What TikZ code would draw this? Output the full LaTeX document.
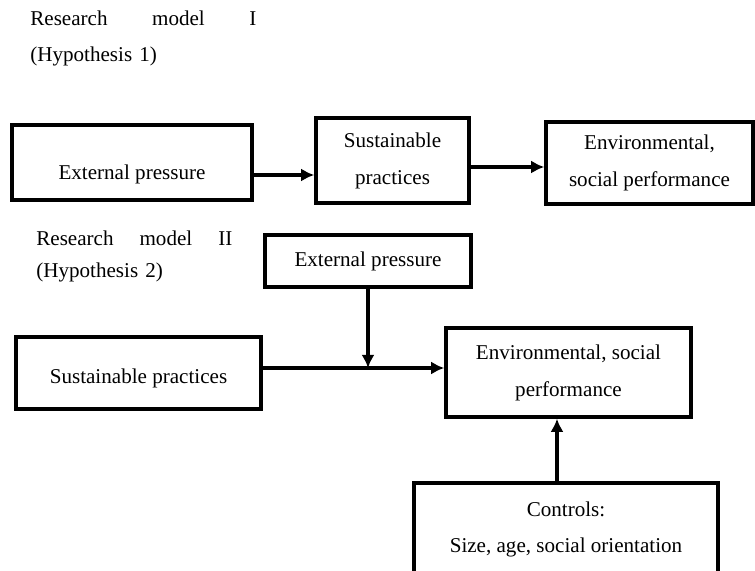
\documentclass[tikz,border=0pt]{standalone}
\usepackage{fontspec}
\setmainfont{Liberation Serif}
\usetikzlibrary{arrows.meta,calc}
\tikzset{
    block/.style = {draw, rectangle, line width=2pt, inner sep=0pt,
        align=center, font=\fontsize{12}{21}\selectfont},
    heading/.style = {align=left, inner sep=0pt, anchor=north west},
    arrow/.style = {draw, line width=1.8pt, ->}
}
\begin{document}
\begin{tikzpicture}[x=0.02cm, y=-0.02cm, >={Latex[length=7.5pt,width=7.5pt]}]
        \clip (0,0) rectangle (755,571);
        % research model I
        \node [heading, text width=4.52cm, font=\fontsize{12}{20}\selectfont] (title1) at (30,11)
            {Research\hfill model\hfill I\\(Hypothesis 1)};
        \node [block, minimum width=4.8cm, minimum height=1.5cm] (press1) at (132,162.5)
            {\raisebox{-0.2cm}[\height][0pt]{External pressure}};
        \node [block, minimum width=3.06cm, minimum height=1.7cm] (pract1) at (392.5,160.5) {Sustainable\\practices};
        \node [block, minimum width=4.14cm, minimum height=1.64cm] (perf1) at (649.5,163) {Environmental,\\social performance};
        \coordinate (h1) at ([yshift=-0.25cm]press1.east);
        \coordinate (h2) at ([yshift=-0.13cm]pract1.east);
        \draw [arrow] (h1) -- (h1 -| pract1.west);
        \draw [arrow] (h2) -- (h2 -| perf1.west);
        % research model II
        \node [heading, text width=3.92cm, font=\fontsize{12}{18}\selectfont] (title2) at (36,231)
            {Research\hfill model\hfill II\\(Hypothesis 2)};
        \node [block, minimum width=4.12cm, minimum height=1.04cm] (press2) at (368,261) {External pressure};
        \node [block, minimum width=4.9cm, minimum height=1.44cm] (pract2) at (138.5,373)
            {\raisebox{-0.06cm}[\height][0pt]{Sustainable practices}};
        \node [block, minimum width=4.9cm, minimum height=1.78cm] (perf2) at (568.5,372.5) {Environmental, social\\performance};
        \node [block, minimum width=6.08cm, minimum height=1.86cm] (ctrl) at (566,529.5) {Controls:\\Size, age, social orientation};
        \coordinate (h3) at ([yshift=0.1cm]pract2.east);
        \coordinate (h4) at ([xshift=-0.18cm]ctrl.north);
        \draw [arrow] (h3) -- (h3 -| perf2.west);
        \draw [arrow] (press2.south) -- (press2.south |- h3);
        \draw [arrow] (h4) -- (h4 |- perf2.south);
\end{tikzpicture}
\end{document}
